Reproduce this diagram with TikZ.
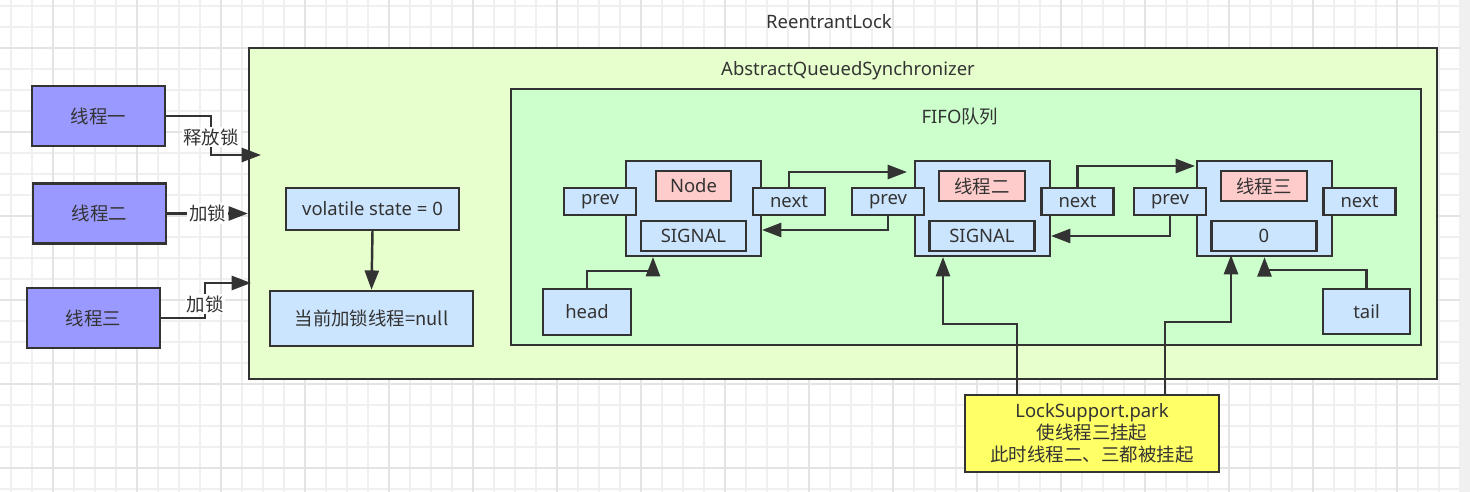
\documentclass[tikz,border=0pt]{standalone}
\usepackage{fontspec}
\setmainfont{Noto Sans}
\newfontfamily\cjk{Noto Sans CJK SC}
\usetikzlibrary{arrows.meta}
\definecolor{linegray}{HTML}{333333}
\definecolor{gridminor}{HTML}{F0F0F0}
\definecolor{gridmajor}{HTML}{E4E4E4}
\definecolor{threadblue}{HTML}{9999FF}
\definecolor{aqsgreen}{HTML}{E6FFCC}
\definecolor{fifogreen}{HTML}{CCFFCC}
\definecolor{fieldblue}{HTML}{CCE5FF}
\definecolor{valred}{HTML}{FFCCCC}
\definecolor{parkyellow}{HTML}{FFFF66}
\tikzstyle{textfont} = [font=\fontsize{10.5pt}{13pt}\selectfont, text=linegray]
\tikzstyle{thread} = [rectangle, minimum width=2.66cm, minimum height=1.2cm, text centered, draw=linegray, line width=1.4pt, fill=threadblue, textfont]
\tikzstyle{frame} = [rectangle, draw=linegray, line width=1.4pt]
\tikzstyle{field} = [rectangle, inner sep=0pt, text centered, draw=linegray, line width=1.4pt, fill=fieldblue, textfont]
\tikzstyle{ptr} = [field, minimum width=1.44cm, minimum height=0.54cm]
\tikzstyle{value} = [field, minimum height=0.6cm, fill=valred]
\tikzstyle{slot} = [field, minimum width=2.1cm, minimum height=0.6cm]
\tikzstyle{lbl} = [fill=white, inner sep=1pt, textfont]
\tikzstyle{arrow} = [line width=1.4pt, draw=linegray, -{Triangle[length=11pt, width=8pt]}]

\begin{document}
\begin{tikzpicture}[x=0.02cm, y=-0.02cm]
		\useasboundingbox (0,0) rectangle (1470,492);
		% grid background
		\fill[white] (0,0) rectangle (1470,492);
		\foreach \x in {11,32,...,1460} \draw[gridminor, line width=0.6pt] (\x,0) -- (\x,492);
		\foreach \y in {6,27,...,492} \draw[gridminor, line width=0.6pt] (0,\y) -- (1460,\y);
		\foreach \x in {53,137,...,1460} \draw[gridmajor, line width=0.6pt] (\x,0) -- (\x,492);
		\foreach \y in {48,132,...,492} \draw[gridmajor, line width=0.6pt] (0,\y) -- (1460,\y);
		\fill[gridminor] (1460,0) rectangle (1470,492);

		\node(title) [textfont] at (829,22) {ReentrantLock};
		\node(aqs) [frame, fill=aqsgreen, minimum width=23.76cm, minimum height=6.62cm] at (843,213.5) {};
		\node(aqstitle) [textfont] at (848,71) {AbstractQueuedSynchronizer};
		\node(fifo) [frame, fill=fifogreen, minimum width=18.2cm, minimum height=5.12cm] at (966,217) {};
		\node(fifotitle) [textfont] at (960,117) {FIFO{\cjk 队列}};

		% threads
		\node(t1) [thread] at (98.5,116) {\cjk 线程一};
		\node(t2) [thread] at (99.5,213.5) {\cjk 线程二};
		\node(t3) [thread] at (93.5,318) {\cjk 线程三};
		\coordinate (in1) at (261,155);
		\coordinate (in3) at (251,283);
		\draw [arrow] (t1.east) -- ++(45,0) |- (in1) node[lbl, pos=0.27] {\cjk 释放锁};
		\draw [arrow] (t2.east) -- (t2.east -| aqs.west) node[lbl, midway] {\cjk 加锁};
		\draw [arrow] (t3.east) -- ++(44,0) |- (in3) node[lbl, pos=0.2] {\cjk 加锁};

		% state
		\node(vol) [field, minimum width=3.46cm, minimum height=0.84cm] at (372.5,209) {volatile state = 0};
		\node(owner) [field, minimum width=4.06cm, minimum height=1.1cm] at (371.5,318.5) {\cjk 当前加锁线程=null};
		\draw [arrow] (vol.south) -- (owner.north);

		% queue nodes
		\node(n1) [field, minimum width=2.7cm, minimum height=1.9cm] at (693.5,208.5) {};
		\node(n2) [field, minimum width=2.7cm, minimum height=1.9cm] at (982.5,208.5) {};
		\node(n3) [field, minimum width=2.7cm, minimum height=1.9cm] at (1264.5,208.5) {};
		\node(v1) [value, minimum width=1.5cm] at (693.5,186) {Node};
		\node(v2) [value, minimum width=1.72cm] at (982,186) {\cjk 线程二};
		\node(v3) [value, minimum width=1.72cm] at (1264,186) {\cjk 线程三};
		\node(w1) [slot] at (693.5,236) {SIGNAL};
		\node(w2) [slot] at (982,236) {SIGNAL};
		\node(w3) [slot] at (1264,236) {0};
		\node(prev1) [ptr] at (600,201.5) {prev};
		\node(next1) [ptr] at (789,201.5) {next};
		\node(prev2) [ptr] at (888,201.5) {prev};
		\node(next2) [ptr] at (1077.5,201.5) {next};
		\node(prev3) [ptr] at (1170,201.5) {prev};
		\node(next3) [ptr] at (1359.5,201.5) {next};
		\node(head) [field, minimum width=1.76cm, minimum height=0.92cm] at (587,312) {head};
		\node(tail) [field, minimum width=1.74cm, minimum height=0.9cm] at (1366.5,311.5) {tail};

		\coordinate (to2) at (907,172);
		\coordinate (to1) at (762,230);
		\coordinate (to3) at (1195,166);
		\coordinate (back2) at (1051,236);
		\coordinate (h1) at (653,257);
		\draw [arrow] (next1.north) |- (to2);
		\draw [arrow] (prev2.south) |- (to1);
		\draw [arrow] (next2.north) |- (to3);
		\draw [arrow] (prev3.south) |- (back2);
		\draw [arrow] (head.north) -- ++(0,-17) -| (h1);
		\draw [arrow] (tail.north) -- ++(0,-18) -| (n3.south);

		% park
		\node(park) [field, fill=parkyellow, align=center, minimum width=5.08cm, minimum height=1.54cm, inner sep=0pt, font=\fontsize{10.5pt}{12.5pt}\selectfont] at (1092,433.5) {LockSupport.park\\{\cjk 使线程三挂起}\\{\cjk 此时线程二、三都被挂起}};
		\coordinate (p2) at (943,257);
		\coordinate (p3) at (1231,255);
		\draw [arrow] ([xshift=-1.5cm]park.north) -- ++(0,-70) -| (p2);
		\draw [arrow] ([xshift=1.46cm]park.north) -- ++(0,-72) -| (p3);
	\end{tikzpicture}
\end{document}
